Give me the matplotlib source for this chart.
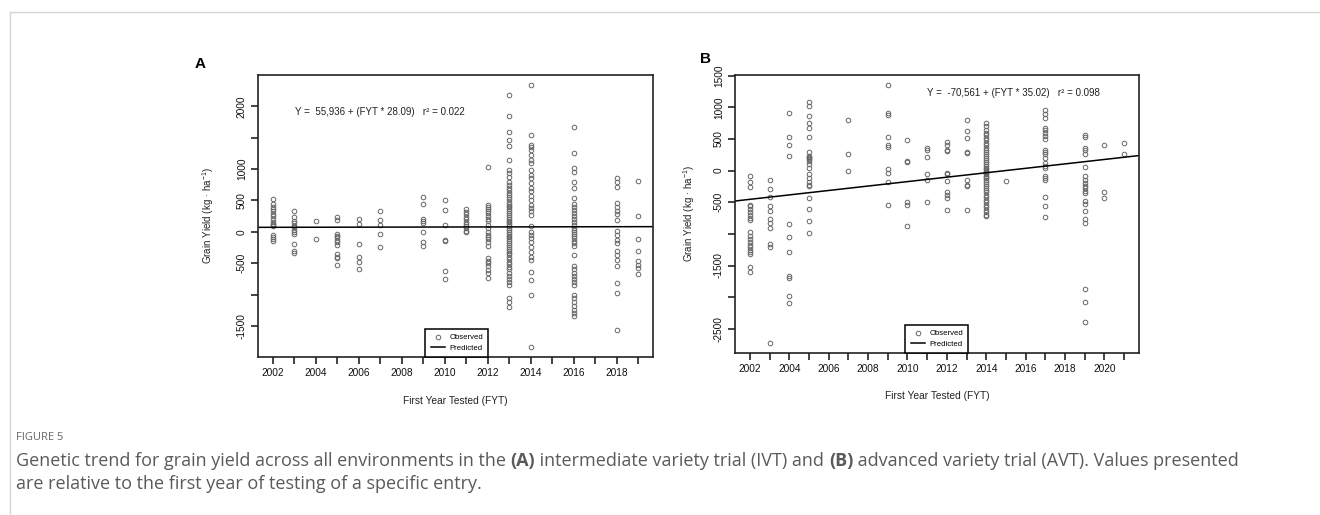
import matplotlib
matplotlib.use('Agg')
import matplotlib.pyplot as plt
from matplotlib.lines import Line2D

plt.rcParams['font.family'] = ['Liberation Sans', 'DejaVu Sans']
plt.rcParams['mathtext.fontset'] = 'custom'
plt.rcParams['mathtext.rm'] = 'Liberation Sans'
plt.rcParams['mathtext.it'] = 'Liberation Sans:italic'

# Panel A (IVT): observed relative yield per first year tested
ivt_obs = {
    2002: [530, 440, 400, 360, 330, 290, 250, 200, 160, 130, 110, 90, -50, -80, -110, -140],
    2003: [340, 230, 180, 140, 100, 70, 30, 0, -40, -190, -300, -330],
    2004: [170, -110],
    2005: [230, 190, -30, -60, -90, -130, -170, -210, -360, -400, -420, -530],
    2006: [210, 120, -200, -400, -480, -590],
    2007: [330, 190, 110, -40, -250],
    2009: [550, 450, 210, 170, 140, 0, -160, -220],
    2010: [500, 350, 110, -130, -150, -630, -750],
    2011: [360, 320, 280, 240, 200, 160, 130, 100, 60, 20, -10],
    2012: [1030, 430, 400, 370, 340, 300, 245, 200, 165, 110, 60, 5, -50, -75, -120, -155,
           -220, -420, -460, -500, -550, -605, -660, -740],
    2013: [2190, 1840, 1600, 1470, 1370, 1150, 990, 940, 880, 800, 750, 700, 660, 620, 580,
           550, 520, 480, 450, 420, 390, 360, 330, 300, 270, 240, 210, 180, 150, 120, 90, 60,
           30, 0, -30, -60, -90, -120, -150, -180, -210, -240, -270, -300, -330, -360, -400,
           -440, -480, -520, -560, -600, -650, -700, -750, -800, -850, -1050, -1120, -1200],
    2014: [2335, 1550, 1390, 1350, 1310, 1230, 1150, 1100, 990, 910, 855, 780, 700, 645,
           565, 510, 430, 380, 325, 270, 100, 5, -50, -100, -155, -235, -315, -395, -450,
           -635, -765, -1005, -1830],
    2016: [1680, 1255, 1015, 960, 800, 700, 540, 450, 400, 350, 300, 250, 200, 150, 110, 60,
           30, 0, -30, -60, -100, -140, -180, -230, -370, -550, -600, -650, -700, -750, -800,
           -850, -1000, -1060, -1120, -1180, -1250, -1300, -1350],
    2018: [860, 790, 720, 460, 400, 330, 290, 190, 20, -50, -130, -180, -310, -370, -450,
           -550, -810, -980, -1570],
    2019: [810, 255, -120, -310, -470, -530, -580, -670],
}

# Panel B (AVT)
avt_obs = {
    2002: [-90, -185, -265, -540, -565, -610, -660, -700, -750, -780, -975, -1040, -1080,
           -1120, -1170, -1210, -1250, -1290, -1310, -1520, -1610],
    2003: [-150, -290, -420, -560, -630, -760, -820, -900, -1160, -1200, -2720],
    2004: [910, 530, 400, 240, -840, -1050, -1290, -1670, -1690, -1980, -2090],
    2005: [1080, 1020, 860, 750, 680, 540, 300, 240, 220, 200, 180, 150, 100, 40, -60, -120,
           -180, -220, -250, -430, -610, -790, -990],
    2007: [800, 270, 0],
    2009: [1350, 920, 880, 530, 410, 370, 30, -40, -180, -540],
    2010: [480, 160, 140, -490, -540, -870],
    2011: [360, 330, 220, -50, -150, -490],
    2012: [450, 410, 320, 310, -40, -60, -170, -340, -380, -430, -620],
    2013: [800, 620, 520, 290, 280, -140, -220, -250, -620],
    2014: [750, 700, 650, 600, 560, 520, 480, 440, 400, 360, 320, 290, 260, 230, 200, 170,
           140, 110, 80, 50, 20, 0, -20, -40, -60, -80, -100, -120, -150, -180, -210, -240,
           -270, -300, -340, -380, -420, -460, -500, -540, -580, -620, -660, -700, -720],
    2015: [-170],
    2017: [960, 890, 830, 680, 640, 600, 550, 500, 330, 300, 270, 200, 120, 70, 50, -80,
           -110, -140, -420, -560, -730],
    2019: [560, 530, 360, 320, 260, 60, -90, -140, -190, -240, -280, -320, -350, -480, -520,
           -630, -770, -830, -1870, -2080, -2400],
    2020: [400, -330, -430],
    2021: [430, 260],
}

# fitted lines as drawn (value at 2002 and slope per year)
line_a = (72, 0.6)
line_b = (-453, 35.02)

eq_a = "Y =  55,936 + (FYT * 28.09)   r² = 0.022"
eq_b = "Y =  -70,561 + (FYT * 35.02)   r² = 0.098"

yticks_a = [-1500, -1000, -500, 0, 500, 1000, 1500, 2000]
ylabels_a = ['-1500', '', '-500', '0', '500', '1000', '', '2000']
yticks_b = [-2500, -2000, -1500, -1000, -500, 0, 500, 1000, 1500]
ylabels_b = ['-2500', '', '-1500', '', '-500', '0', '500', '1000', '1500']

fig = plt.figure(figsize=(13.2, 5.15), dpi=100)
W, H = 1320, 515
pt_col = '#666666'

def panel(rect, obs, line, eq, eq_pos, years, xlim, ylim, yticks, ylabels, leg_x, ylab_x, xlab_y):
    ax = fig.add_axes(rect)
    for yr, vals in obs.items():
        ax.plot([yr] * len(vals), vals, linestyle='none', marker='o', markersize=3.3,
                markerfacecolor='none', markeredgecolor=pt_col, markeredgewidth=0.7)
    ax.axline((2002, line[0]), slope=line[1], color='black', linewidth=1.1)
    ax.set_xlim(xlim)
    ax.set_ylim(ylim)
    ax.set_xticks(years)
    ax.set_xticklabels([str(y) if y % 2 == 0 else '' for y in years])
    ax.set_yticks(yticks)
    ax.set_yticklabels(ylabels, rotation=90, va='center')
    ax.tick_params(direction='out', length=5, width=1.1, labelsize=7.3, colors='#111111', pad=3)
    for s in ax.spines.values():
        s.set_linewidth(1.2)
        s.set_color('#222222')
    ax.text(eq_pos[0], eq_pos[1], eq, transform=ax.transAxes, fontsize=7, ha='left',
            va='center', color='#222222')
    ax.set_xlabel('First Year Tested (FYT)', fontsize=7.3, color='#222222')
    ax.xaxis.set_label_coords(0.5, xlab_y)
    ax.set_ylabel('Grain Yield (kg · ha$^{-1}$)', fontsize=7, color='#222222')
    ax.yaxis.set_label_coords(ylab_x, 0.5)
    handles = [Line2D([], [], linestyle='none', marker='o', markersize=3.3,
                      markerfacecolor='none', markeredgecolor=pt_col, markeredgewidth=0.7),
               Line2D([], [], color='black', linewidth=1.1)]
    leg = ax.legend(handles, ['Observed', 'Predicted'], loc='lower left',
                    bbox_to_anchor=(leg_x, 0), borderaxespad=0, fontsize=5.6,
                    fancybox=False, edgecolor='black', handlelength=1.8, handletextpad=0.6,
                    borderpad=0.7, labelspacing=0.35, framealpha=1)
    leg.get_frame().set_linewidth(1.1)
    return ax

panel([258 / W, 1 - 357 / H, 395 / W, 282 / H], ivt_obs, line_a, eq_a, (0.094, 0.869),
      list(range(2002, 2020)), (2001.32, 2019.68), (-1997, 2502), yticks_a, ylabels_a,
      0.423, -0.106, -0.138)
panel([735 / W, 1 - 353 / H, 404 / W, 278 / H], avt_obs, line_b, eq_b, (0.475, 0.935),
      list(range(2002, 2022)), (2001.24, 2021.76), (-2883, 1513), yticks_b, ylabels_b,
      0.421, -0.094, -0.137)

fig.text(200 / W, 1 - 64 / H, 'A', fontsize=11, fontweight='bold', ha='center', va='center')
fig.text(706 / W, 1 - 59 / H, 'B', fontsize=11, fontweight='bold', ha='center', va='center')

# page frame lines
fig.add_artist(Line2D([10 / W, 1], [1 - 12 / H, 1 - 12 / H], color='#d4d4d4', linewidth=1))
fig.add_artist(Line2D([10 / W, 10 / W], [0, 1 - 12 / H], color='#d4d4d4', linewidth=1))

# caption
cap_font = ['Open Sans', 'DejaVu Sans']
fig.text(16 / W, 1 - 437 / H, 'FIGURE 5', fontsize=8, color='#666666', family=cap_font,
         va='center')

renderer = fig.canvas.get_renderer()

def run_line(parts, y):
    x = 16 / W
    for txt, bold in parts:
        t = fig.text(x, y, txt, fontsize=13, color='#5a5a5a', family=cap_font, va='center',
                     fontweight='bold' if bold else 'normal')
        bb = t.get_window_extent(renderer)
        x += bb.width / W

run_line([('Genetic trend for grain yield across all environments in the ', False),
          ('(A)', True),
          (' intermediate variety trial (IVT) and ', False),
          ('(B)', True),
          (' advanced variety trial (AVT). Values presented', False)], 1 - 461 / H)
run_line([('are relative to the first year of testing of a specific entry.', False)],
         1 - 484 / H)

fig.savefig('out.png', dpi=100)
